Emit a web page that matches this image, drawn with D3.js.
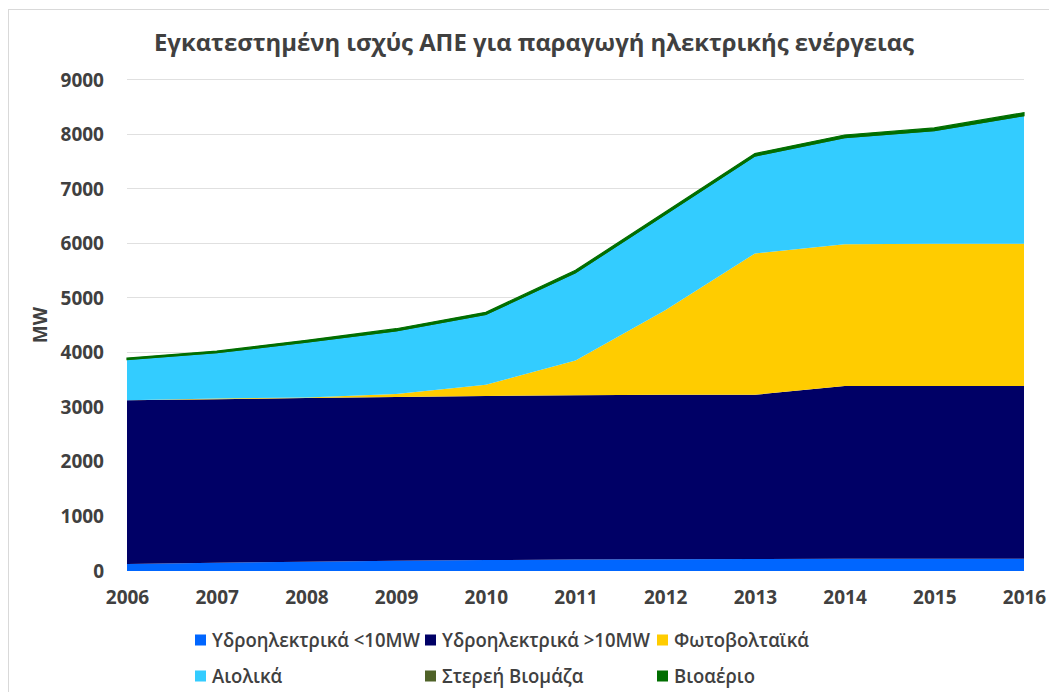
<!DOCTYPE html>
<html>
<head>
<meta charset="utf-8">
<script src="https://cdn.jsdelivr.net/npm/d3@7"></script>
<style>
  body { margin: 0; background: #fff; }
  text { font-family: "Open Sans", "DejaVu Sans", sans-serif; fill: #404040; }
</style>
</head>
<body>
<div id="chart"></div>
<script>
//years on the x axis
var years = [2006, 2007, 2008, 2009, 2010, 2011, 2012, 2013, 2014, 2015, 2016];

//installed capacity per source (MW)
var hydroSmall = [130, 150, 170, 190, 200, 210, 215, 220, 225, 225, 225];
var hydroLarge = [3000, 3000, 3000, 3000, 3010, 3010, 3015, 3010, 3165, 3165, 3165];
var solar = [1, 10, 12, 55, 205, 640, 1550, 2590, 2600, 2610, 2610];
var wind = [745, 840, 1010, 1155, 1285, 1605, 1755, 1785, 1950, 2070, 2345];
var biomass = [1, 1, 1, 1, 1, 1, 1, 1, 2, 2, 2];
var biogas = [25, 30, 35, 40, 40, 45, 45, 45, 50, 50, 55];

var yTicks = [0, 1000, 2000, 3000, 4000, 5000, 6000, 7000, 8000, 9000];

var seriesNames = ['Υδροηλεκτρικά <10MW', 'Υδροηλεκτρικά >10MW', 'Φωτοβολταϊκά',
                   'Αιολικά', 'Στερεή Βιομάζα', 'Βιοαέριο'];
var seriesColors = ['#0066ff', '#000066', '#ffcc00', '#33ccff', '#4f6228', '#006e00'];
var seriesValues = [hydroSmall, hydroLarge, solar, wind, biomass, biogas];

var width = 1049;
var height = 692;

var svg = d3.select('#chart')
    .append('svg')
    .attr('width', width)
    .attr('height', height);

//chart frame
svg.append('rect')
    .attr('x', 8.5)
    .attr('y', 9.5)
    .attr('width', width + 10)
    .attr('height', height)
    .attr('fill', '#fff')
    .attr('stroke', '#d9d9d9');

//build rows for the stack
var rows = years.map(function(y, i) {
    var row = { year: y };
    seriesNames.forEach(function(n, k) { row[n] = seriesValues[k][i]; });
    return row;
});

var layers = d3.stack().keys(seriesNames)(rows);

var xScale = d3.scaleLinear()
    .domain([2006, 2016])
    .range([127, 1024]);

var yScale = d3.scaleLinear()
    .domain([0, 9000])
    .range([571, 80]);

//gridlines
svg.append('g')
    .selectAll('line')
    .data(yTicks.slice(1))
    .enter()
    .append('line')
    .attr('x1', xScale(2006))
    .attr('x2', xScale(2016))
    .attr('y1', function(d) { return Math.round(yScale(d)) - 0.5; })
    .attr('y2', function(d) { return Math.round(yScale(d)) - 0.5; })
    .attr('stroke', '#e0e0e0');

//areas
var area = d3.area()
    .x(function(d) { return xScale(d.data.year); })
    .y0(function(d) { return yScale(d[0]); })
    .y1(function(d) { return yScale(d[1]); });

svg.append('g')
    .selectAll('path')
    .data(layers)
    .enter()
    .append('path')
    .attr('d', area)
    .attr('fill', function(d, i) { return seriesColors[i]; })
    .attr('stroke', function(d, i) { return i >= 4 ? seriesColors[i] : 'none'; })
    .attr('stroke-width', function(d, i) { return i === 5 ? 1.2 : 0.5; });

//y axis
var yAxis = d3.axisLeft(yScale).tickValues(yTicks).tickFormat(d3.format('d')).tickSize(0).tickPadding(23);
var yG = svg.append('g')
    .attr('transform', 'translate(' + xScale(2006) + ',0)')
    .call(yAxis);
yG.select('.domain').remove();
yG.selectAll('text')
    .style('font-size', '19px')
    .style('font-weight', 'bold')
    .style('fill', '#404040');

//x axis
var xAxis = d3.axisBottom(xScale).tickValues(years).tickFormat(d3.format('d')).tickSize(0).tickPadding(20);
var xG = svg.append('g')
    .attr('transform', 'translate(0,' + yScale(0) + ')')
    .call(xAxis);
xG.select('.domain').remove();
xG.selectAll('text')
    .style('font-size', '19px')
    .style('font-weight', 'bold')
    .style('fill', '#404040');

//title
svg.append('text')
    .attr('x', 534)
    .attr('y', 51)
    .attr('text-anchor', 'middle')
    .attr('textLength', 760)
    .attr('lengthAdjust', 'spacingAndGlyphs')
    .style('font-size', '24px')
    .style('font-weight', 'bold')
    .text('Εγκατεστημένη ισχύς ΑΠΕ για παραγωγή ηλεκτρικής ενέργειας');

//y axis label
svg.append('text')
    .attr('transform', 'translate(47,325)rotate(-90)')
    .attr('text-anchor', 'middle')
    .style('font-size', '19px')
    .style('font-weight', 'bold')
    .text('MW');

//legend
var legendCols = [195, 425, 657];
var legendRows = [640, 676];
var legend = svg.append('g')
    .selectAll('g')
    .data(seriesNames)
    .enter()
    .append('g')
    .attr('transform', function(d, i) {
        return 'translate(' + legendCols[i % 3] + ',' + legendRows[Math.floor(i / 3)] + ')';
    });

legend.append('rect')
    .attr('x', 0)
    .attr('y', -5.5)
    .attr('width', 11)
    .attr('height', 11)
    .attr('fill', function(d, i) { return seriesColors[i]; });

var legendText = legend.append('text')
    .attr('x', 17)
    .attr('y', 7)
    .style('font-size', '19px')
    .style('font-weight', '600')
    .text(function(d) { return d; });

//squeeze the text so the first label is as wide as in the original
var squeeze = 208 / legendText.node().getComputedTextLength();
legendText.each(function() {
    var w = this.getComputedTextLength();
    d3.select(this)
        .attr('textLength', w * squeeze)
        .attr('lengthAdjust', 'spacingAndGlyphs');
});
</script>
</body>
</html>
